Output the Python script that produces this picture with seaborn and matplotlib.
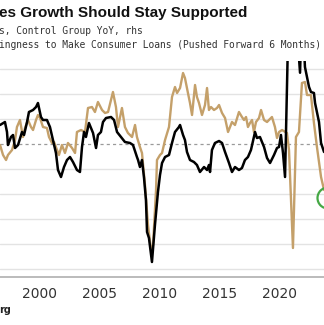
import matplotlib
matplotlib.use("Agg")
import matplotlib.pyplot as plt
from matplotlib.patches import Ellipse
import numpy as np
import pandas as pd
import seaborn as sns

# Fed survey: willingness to make consumer loans, pushed forward 6 months (lhs)
loans_year = [1996.67, 1996.92, 1997.17, 1997.33, 1997.67, 1997.92, 1998.08, 1998.33, 1998.58, 1998.75,
              1999.00, 1999.25, 1999.42, 1999.67, 1999.83, 2000.00, 2000.25, 2000.58, 2000.75, 2001.00,
              2001.17, 2001.42, 2001.58, 2001.83, 2002.08, 2002.33, 2002.67, 2002.92, 2003.08, 2003.42,
              2003.75, 2004.00, 2004.33, 2004.58, 2004.83, 2005.17, 2005.42, 2005.67, 2006.08, 2006.33,
              2006.50, 2006.83, 2007.08, 2007.33, 2007.67, 2007.92, 2008.08, 2008.33, 2008.50, 2008.75,
              2009.00, 2009.25, 2009.42, 2009.67, 2009.75, 2010.00, 2010.17, 2010.42, 2010.75, 2011.00,
              2011.25, 2011.42, 2011.67, 2011.92, 2012.08, 2012.33, 2012.50, 2012.67, 2012.92, 2013.08,
              2013.25, 2013.50, 2013.75, 2013.92, 2014.08, 2014.25, 2014.50, 2014.75, 2014.92, 2015.17,
              2015.42, 2015.67, 2016.00, 2016.25, 2016.58, 2016.83, 2017.00, 2017.17, 2017.33, 2017.50,
              2017.67, 2017.83, 2018.00, 2018.25, 2018.42, 2018.67, 2018.92, 2019.08, 2019.33, 2019.58,
              2019.75, 2019.92, 2020.17, 2020.58, 2020.75, 2021.08, 2021.33, 2021.58, 2021.83, 2022.08,
              2022.25, 2022.58, 2022.83, 2023.08, 2023.42, 2023.67]
loans_value = [-0.4, -4.4, -6.4, -4.4, -2.4, 1.6, 6.8, 9.6, 2.8, 6.4,
               9.6, 6.8, 5.6, 9.6, 11.6, 10.4, 6.8, 6.4, 2.8, 0.4,
               0.8, -2.4, -4.4, -0.4, -3.6, 0.4, -1.6, -3.6, 4.8, 5.6,
               4.8, 14.4, 14.8, 12.8, 16.8, 13.6, 12.4, 12.8, 20.8, 14.8,
               6.8, 14.4, 6.8, 4.4, 2.8, 7.6, 2.8, -1.2, -3.6, -16.4,
               -32.4, -42.4, -40.4, -18.4, -6.4, -4.4, -3.6, 1.6, 6.8, 18.8,
               22.8, 20.4, 22.4, 28.4, 26.4, 20.4, 16.4, 11.6, 23.6, 18.8,
               16.4, 11.6, 15.6, 22.4, 13.6, 14.8, 13.6, 14.4, 15.6, 12.4,
               10.4, 4.8, 8.8, 7.6, 12.8, 10.8, 9.6, 10.8, 6.8, 8.4,
               9.6, 4.8, 8.8, 10.4, 13.6, 9.6, 8.8, 9.6, 10.8, 6.8,
               2.4, 4.8, 5.6, 4.4, -2.4, -41.6, 2.8, 4.8, 24.4, 24.8,
               19.6, 19.6, 8.4, -1.2, -13.2, -18.4]

# Retail sales, control group YoY % (rhs)
sales_year = [1996.67, 1997.08, 1997.25, 1997.33, 1997.58, 1997.75, 1997.92, 1998.17, 1998.50, 1998.67,
              1998.92, 1999.08, 1999.42, 1999.67, 1999.83, 2000.08, 2000.25, 2000.58, 2000.83, 2001.08,
              2001.33, 2001.50, 2001.75, 2002.00, 2002.25, 2002.50, 2002.75, 2003.08, 2003.33, 2003.50,
              2003.67, 2003.83, 2004.08, 2004.25, 2004.42, 2004.67, 2004.83, 2005.08, 2005.25, 2005.50,
              2005.92, 2006.17, 2006.42, 2006.75, 2007.08, 2007.50, 2007.75, 2008.08, 2008.17, 2008.33,
              2008.50, 2008.67, 2008.83, 2008.92, 2009.08, 2009.33, 2009.58, 2009.83, 2010.00, 2010.17,
              2010.42, 2010.75, 2011.00, 2011.25, 2011.58, 2011.67, 2011.92, 2012.08, 2012.25, 2012.50,
              2012.83, 2013.08, 2013.33, 2013.67, 2013.92, 2014.08, 2014.17, 2014.33, 2014.58, 2014.92,
              2015.17, 2015.42, 2015.75, 2016.00, 2016.25, 2016.58, 2016.83, 2017.08, 2017.33, 2017.58,
              2017.92, 2018.08, 2018.33, 2018.67, 2018.92, 2019.17, 2019.50, 2019.75, 2019.92, 2020.08,
              2020.25, 2020.42, 2020.67, 2021.00, 2021.33, 2021.50, 2021.67, 2021.83, 2022.08, 2022.42,
              2022.58, 2022.83, 2022.92, 2023.25, 2023.42, 2023.67]
sales_value = [5.52, 5.76, 4.96, 3.92, 4.56, 4.72, 3.68, 3.92, 4.96, 4.72,
               5.76, 6.56, 6.72, 6.96, 7.28, 6.16, 5.92, 5.92, 5.36, 4.32,
               3.28, 1.92, 1.36, 2.16, 2.72, 2.96, 2.56, 1.92, 1.76, 3.76,
               4.96, 4.56, 5.68, 5.28, 4.88, 3.68, 4.72, 4.96, 5.76, 6.08,
               6.16, 5.92, 4.96, 4.56, 4.16, 4.08, 3.92, 2.96, 2.72, 2.16,
               2.72, 1.28, -0.48, -3.04, -3.52, -5.44, -2.48, 0.16, 1.52, 2.48,
               2.96, 3.12, 4.08, 4.96, 5.36, 5.52, 4.72, 4.32, 3.36, 2.72,
               2.56, 2.32, 1.76, 2.16, 1.92, 2.32, 1.76, 3.52, 4.08, 4.24,
               4.08, 3.36, 2.48, 1.76, 2.16, 1.92, 2.08, 2.72, 2.96, 3.52,
               4.96, 4.48, 4.56, 3.76, 2.88, 2.48, 3.12, 3.68, 3.76, 4.72,
               3.28, 1.36, 12.5, 11.5, 14.0, 12.0, 9.7, 15.0, 10.16, 8.56,
               8.16, 8.08, 7.28, 5.76, 4.08, 3.36]

year_ticks = [2000, 2005, 2010, 2015, 2020]
year_labels = ["2000", "2005", "2010", "2015", "2020"]

title_text = "es Growth Should Stay Supported"
legend_sales = "s, Control Group YoY, rhs"
legend_loans = "ingness to Make Consumer Loans (Pushed Forward 6 Months)"
source_text = "rg"

loans = pd.DataFrame({"year": loans_year, "value": loans_value})
sales = pd.DataFrame({"year": sales_year, "value": sales_value})

sns.set_style("white")
plt.rcParams["font.family"] = ["DejaVu Sans"]

W, H = 324, 325
fig = plt.figure(figsize=(W / 100, H / 100), dpi=100)
fig.patch.set_facecolor("white")

top_px, bottom_px = 61, 277
ax = fig.add_axes([0, 1 - bottom_px / H, 1, (bottom_px - top_px) / H])
ax2 = ax.twinx()

TAN = "#c4a06a"

# left axis: loans survey scale
ax.set_xlim(1996.667, 2023.667)
ax.set_ylim(-53.2, 33.2)
for v in [-50, -40, -30, -20, -10, 10, 20, 30]:
    ax.axhline(v, color="#e3e3e3", lw=1.0, zorder=0)
ax.axhline(0, color="#9a9a9a", lw=0.9, ls=(0, (2.5, 2.5)), zorder=1)

sns.lineplot(data=loans, x="year", y="value", ax=ax, color=TAN, lw=1.7, zorder=3)
sns.lineplot(data=sales, x="year", y="value", ax=ax2, color="black", lw=1.8, zorder=4)
ax2.set_ylim(-6.64, 10.64)
ax.patch.set_visible(False)

for a in (ax, ax2):
    a.set_xlabel("")
    a.set_ylabel("")
    a.set_yticks([])
    for s in ("top", "left", "right"):
        a.spines[s].set_visible(False)
ax2.spines["bottom"].set_visible(False)
ax.spines["bottom"].set_color("#b5b5b5")
ax.spines["bottom"].set_linewidth(1.3)

ax.set_xticks(year_ticks)
ax.set_xticklabels(year_labels)
ax.tick_params(axis="x", direction="out", length=3, width=0.8, color="#c8c8c8",
               labelsize=10, labelcolor="#333333", pad=4)
ax2.tick_params(axis="x", length=0, labelbottom=False)

# header texts
fig.text(-0.003, 1 - 13 / H, title_text, fontsize=11, fontweight="bold",
         family="Liberation Sans", color="#111111", va="center", ha="left")
fig.text(-0.003, 1 - 31 / H, legend_sales, fontsize=6.9, family="DejaVu Sans Mono",
         color="#333333", va="center", ha="left")
fig.text(-0.003, 1 - 45 / H, legend_loans, fontsize=6.9, family="DejaVu Sans Mono",
         color="#333333", va="center", ha="left")
fig.text(-0.002, 1 - 310 / H, source_text, fontsize=7, fontweight="bold",
         color="#222222", va="center", ha="left")

# highlight circle at the latest reading
fig.add_artist(Ellipse((328 / W, 1 - 198 / H), 21 / W, 21 / H, transform=fig.transFigure,
                       facecolor="none", edgecolor="#45a845", lw=1.6, zorder=10))

fig.savefig("out.png", dpi=100, facecolor="white")
